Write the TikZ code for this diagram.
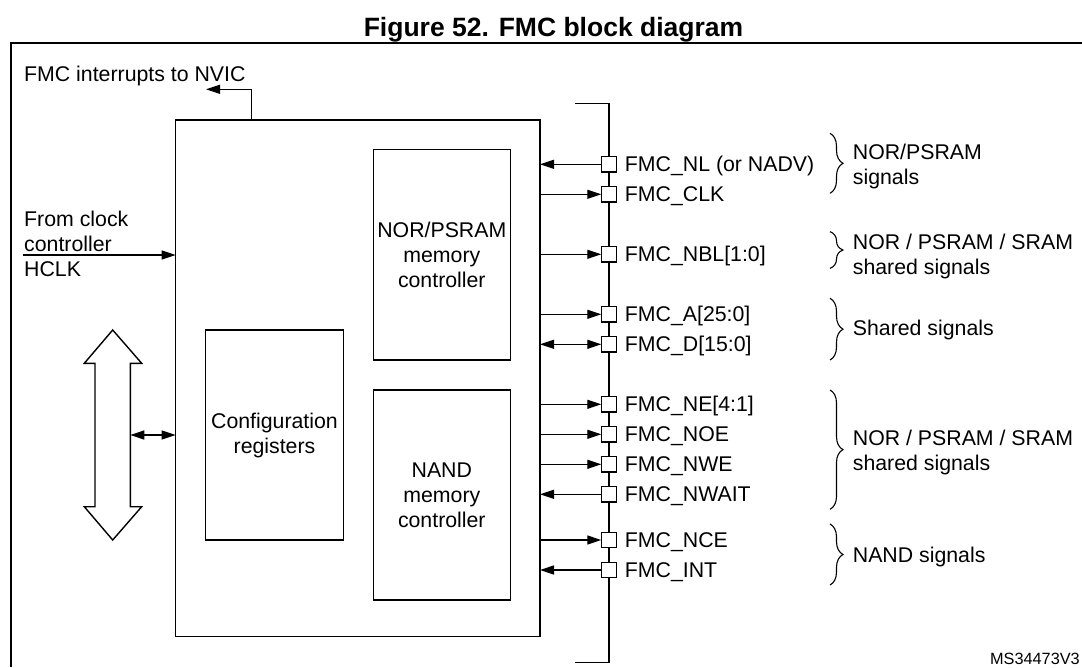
\documentclass[tikz,border=0pt]{standalone}
\usepackage{fontspec}
\setmainfont{Liberation Sans}
\usetikzlibrary{arrows.meta,decorations.pathreplacing}
\newcommand\dtxt{\fontsize{21.3}{25}\selectfont}
\begin{document}
\begin{tikzpicture}[x=1pt,y=-1pt,
  lw/.style={line width=1.4pt},
  box/.style={draw, line width=1.4pt, inner sep=0pt, outer sep=0pt, align=center, font=\dtxt},
  sq/.style={draw, fill=white, line width=1.4pt, minimum size=15.5pt, inner sep=0pt, outer sep=0pt},
  lab/.style={font=\dtxt, inner sep=0pt, anchor=base west},
  mlab/.style={font=\dtxt, inner sep=0pt, anchor=north west, align=left},
  arr/.style={line width=1.4pt, -{Triangle[length=14pt,width=9pt]}},
  arrb/.style={line width=1.4pt, {Triangle[length=14pt,width=9pt]}-{Triangle[length=14pt,width=9pt]}},
  brc/.style={decorate, decoration={brace, amplitude=13pt}, line width=1.1pt}
]
\useasboundingbox (0,0) rectangle (1082,667);
\fill[white] (0,0) rectangle (1082,667);

% title and frame
\node[font=\bfseries\fontsize{26.5}{30}\selectfont, anchor=north, inner sep=0pt] (title) at (553.5,17) {Figure 52. FMC block diagram};
\draw[line width=2pt] (11,667) -- (11,43.3) -- (1082,43.3);

% main boxes
\node[box, minimum width=364.4pt, minimum height=516.7pt] (main) at (357.8,378.35) {};
\node[box, minimum width=137.2pt, minimum height=210.7pt] (nor) at (441.8,254.7) {NOR/PSRAM\\memory\\controller};
\node[box, minimum width=137.6pt, minimum height=210pt] (cfg) at (274.5,435) {Configuration\\registers};
\node[box, minimum width=137.2pt, minimum height=210pt] (nand) at (441.8,495) {NAND\\memory\\controller};

% left side texts
\node[mlab] (irqt) at (24,66.2) {FMC interrupts to NVIC};
\node[mlab] (clkt) at (24,210.5) {From clock\\controller\\HCLK};

% interrupt arrow
\coordinate (irq) at (206,89.3);
\draw[arr] ([xshift=76.1pt]main.north west) |- (irq);

% HCLK arrow
\coordinate (hclk) at (23.4,255);
\draw[arr] (hclk) -- (hclk -| main.west);

% big hollow double arrow
\draw[lw, line join=miter, fill=white] (112.7,330) -- (141.7,363.3) -- (130.3,363.3) -- (130.3,506.7) -- (141.7,506.7) -- (112.7,540) -- (84.3,506.7) -- (95,506.7) -- (95,363.3) -- (84.3,363.3) -- cycle;
\coordinate (ahb) at (130.3,435);
\draw[arrb] (ahb) -- (ahb -| main.west);

% bus
\coordinate (bustop) at (575,103.3);
\coordinate (busbot) at (575,662.3);
\draw[line width=1.5pt] (bustop) -- (609,103.3) -- (609,662.3) -- (busbot);

% pins
\foreach \i/\yy in {1/164.3,2/194.3,3/254.3,4/314.3,5/344.3,6/404.3,7/434.3,8/464.3,9/494.3,10/540,11/570}
  \node[sq] (s\i) at (609,\yy) {};

\node[lab] (l1) at (624.7,171.9) {FMC\_NL (or NADV)};
\node[lab] (l2) at (624.7,201.9) {FMC\_CLK};
\node[lab] (l3) at (624.7,261.9) {FMC\_NBL[1:0]};
\node[lab] (l4) at (624.7,321.9) {FMC\_A[25:0]};
\node[lab] (l5) at (624.7,351.9) {FMC\_D[15:0]};
\node[lab] (l6) at (624.7,411.9) {FMC\_NE[4:1]};
\node[lab] (l7) at (624.7,441.9) {FMC\_NOE};
\node[lab] (l8) at (624.7,471.9) {FMC\_NWE};
\node[lab] (l9) at (624.7,501.9) {FMC\_NWAIT};
\node[lab] (l10) at (624.7,547.6) {FMC\_NCE};
\node[lab] (l11) at (624.7,577.6) {FMC\_INT};

% signal arrows
\draw[arr] (s1.west) -- (main.east |- s1);
\draw[arr] (main.east |- s2) -- (s2.west);
\draw[arr] (main.east |- s3) -- (s3.west);
\draw[arr] (main.east |- s4) -- (s4.west);
\draw[arrb] (main.east |- s5) -- (s5.west);
\draw[arr] (main.east |- s6) -- (s6.west);
\draw[arr] (main.east |- s7) -- (s7.west);
\draw[arr] (main.east |- s8) -- (s8.west);
\draw[arr] (s9.west) -- (main.east |- s9);
\draw[arr] (main.east |- s10) -- (s10.west);
\draw[arr] (s11.west) -- (main.east |- s11);

% braces
\draw[brc] (830,133.3) -- (830,193.3);
\draw[brc] (830,231.7) -- (830,268.3);
\draw[brc] (830,298.3) -- (830,360);
\draw[brc] (830,390) -- (830,509.3);
\draw[brc] (830,524) -- (830,585);

\node[mlab] (g1) at (852.7,143.9) {NOR/PSRAM\\signals};
\node[mlab] (g2) at (852.7,233.9) {NOR / PSRAM / SRAM\\shared signals};
\node[mlab] (g3) at (852.7,319.9) {Shared signals};
\node[mlab] (g4) at (852.7,430) {NOR / PSRAM / SRAM\\shared signals};
\node[mlab] (g5) at (852.7,546.5) {NAND signals};

\node[font=\fontsize{16.3}{19}\selectfont, anchor=north east, inner sep=0pt] (ms) at (1080,653) {MS34473V3};
\end{tikzpicture}
\end{document}
